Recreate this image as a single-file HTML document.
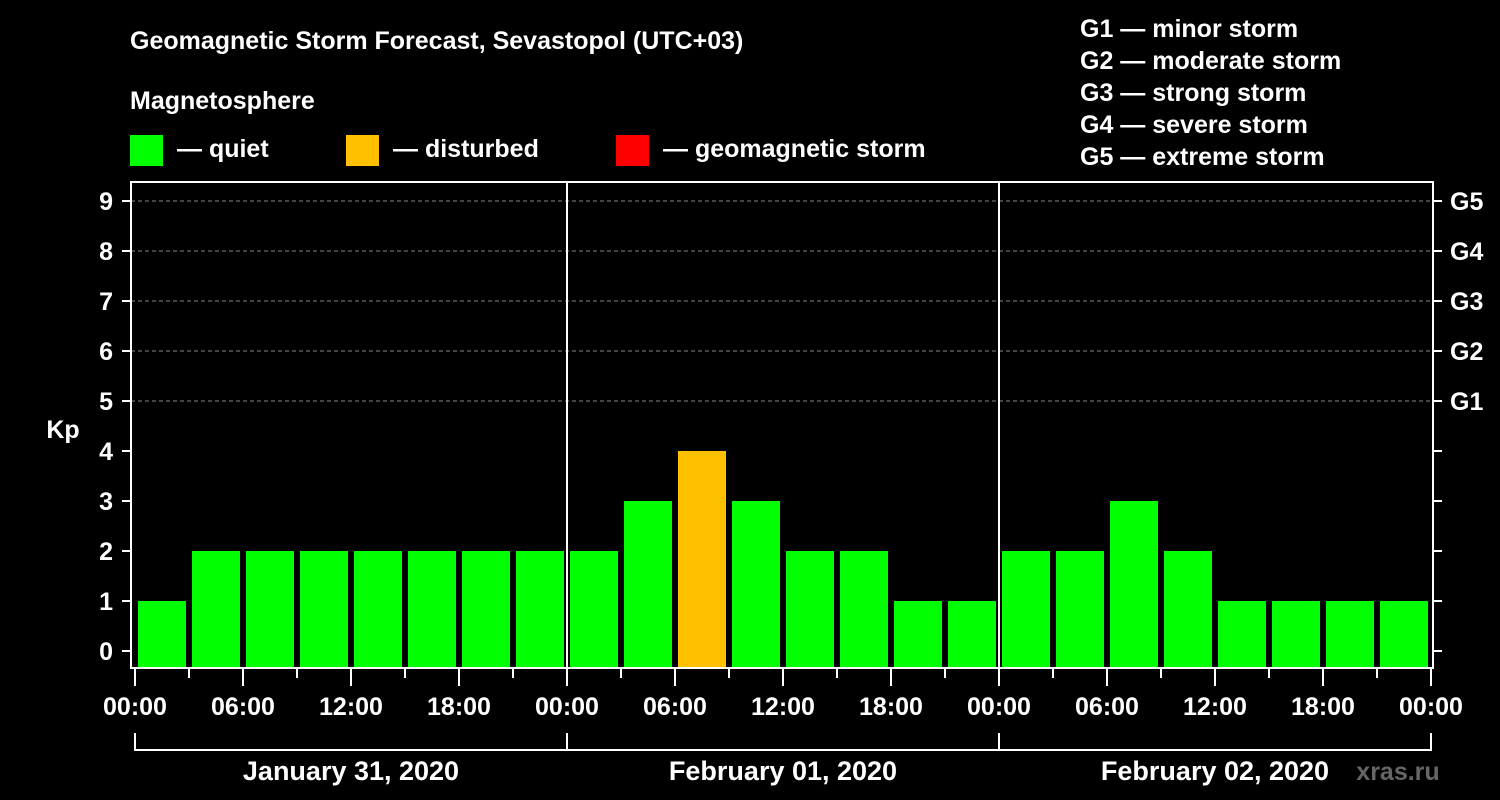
<!DOCTYPE html>
<html><head><meta charset="utf-8"><style>
html,body{margin:0;padding:0;background:#000;}
svg{display:block;font-family:"Liberation Sans",Arial,sans-serif;font-weight:bold;}
</style></head><body>
<svg id="chart" width="1500" height="800" viewBox="0 0 1500 800">
<rect width="1500" height="800" fill="#000"/>
<text x="130" y="49" fill="#fff" font-size="25">Geomagnetic Storm Forecast, Sevastopol (UTC+03)</text>
<text x="130" y="109" fill="#fff" font-size="25">Magnetosphere</text>
<g><rect x="130" y="135" width="33" height="31" fill="#00ff00"/><text x="177" y="157" fill="#fff" font-size="25">— quiet</text></g>
<g><rect x="346" y="135" width="33" height="31" fill="#ffc000"/><text x="393" y="157" fill="#fff" font-size="25">— disturbed</text></g>
<g><rect x="616" y="135" width="33" height="31" fill="#ff0000"/><text x="663" y="157" fill="#fff" font-size="25">— geomagnetic storm</text></g>
<g fill="#fff" font-size="25">
<text x="1080" y="37">G1 — minor storm</text>
<text x="1080" y="69">G2 — moderate storm</text>
<text x="1080" y="101">G3 — strong storm</text>
<text x="1080" y="133">G4 — severe storm</text>
<text x="1080" y="165">G5 — extreme storm</text>
</g>
<text x="63" y="438" fill="#fff" font-size="25" text-anchor="middle">Kp</text>
<text x="1398" y="780" fill="#666" font-size="25" text-anchor="middle">xras.ru</text>
<g id="plot"></g>
</svg>
<script>
const values=[1,2,2,2,2,2,2,2, 2,3,4,3,2,2,1,1, 2,2,3,2,1,1,1,1];
const yTicks=[0,1,2,3,4,5,6,7,8,9];
const gLabels=["G1","G2","G3","G4","G5"];
const gLevels=[5,6,7,8,9];
const xTickLabels=["00:00","06:00","12:00","18:00","00:00","06:00","12:00","18:00","00:00","06:00","12:00","18:00","00:00"];
const dayLabels=["January 31, 2020","February 01, 2020","February 02, 2020"];

const NS="http://www.w3.org/2000/svg";
const g=document.getElementById('plot');
const L=131,R=1433,T=182,B=668,X0=135,SLOT=54;
const y=v=>651-v*50;
const x=i=>X0+i*SLOT;
function mk(t,a,p){const e=document.createElementNS(NS,t);for(const k in a)e.setAttribute(k,a[k]);(p||g).appendChild(e);return e;}
const colorOf=v=>v>=5?'#ff0000':(v>=4?'#ffc000':'#00ff00');
// grid
gLevels.forEach((v,i)=>{
  const l=mk('line',{x1:L,x2:R,y1:y(v),y2:y(v),stroke:'#888','stroke-dasharray':'4,3','stroke-width':1});
  
  
});
// bars
values.forEach((v,i)=>{
  const r=mk('rect',{x:x(i)+3,y:y(v),width:SLOT-6,height:B-1-y(v),fill:colorOf(v)});
  
  
});
// day separators
[8,16].forEach(i=>{
  const l=mk('line',{x1:x(i),x2:x(i),y1:T,y2:B,stroke:'#fff','stroke-width':2});
  
  
});
// frame
const fr=mk('rect',{x:L,y:T,width:R-L,height:B-T,fill:'none',stroke:'#fff','stroke-width':2});


// y ticks
yTicks.forEach(v=>{
  mk('line',{x1:122,x2:L,y1:y(v),y2:y(v),stroke:'#fff','stroke-width':2});
  mk('line',{x1:R,x2:1442,y1:y(v),y2:y(v),stroke:'#fff','stroke-width':2});
  const t=mk('text',{x:113,y:y(v)+9,fill:'#fff','font-size':25,'text-anchor':'end'});
  t.textContent=v;
  
  
});
gLabels.forEach((s,i)=>{
  const t=mk('text',{x:1450,y:y(gLevels[i])+9,fill:'#fff','font-size':25});
  t.textContent=s;
  
  
});
// x ticks
for(let i=0;i<=24;i++){
  const major=i%2===0;
  mk('line',{x1:x(i),x2:x(i),y1:B,y2:major?686:678,stroke:'#fff','stroke-width':2});
}
xTickLabels.forEach((s,i)=>{
  const t=mk('text',{x:x(i*2),y:715,fill:'#fff','font-size':25,'text-anchor':'middle'});
  t.textContent=s;
  
  
});
// day brackets
mk('path',{d:`M${x(0)},733V750H${x(24)}V733M${x(8)},733V750M${x(16)},733V750`,stroke:'#fff','stroke-width':2,fill:'none'});
dayLabels.forEach((s,i)=>{
  const t=mk('text',{x:(x(i*8)+x(i*8+8))/2,y:780,fill:'#fff','font-size':27,'text-anchor':'middle'});
  t.textContent=s;
  
  
});
</script>
</body></html>
